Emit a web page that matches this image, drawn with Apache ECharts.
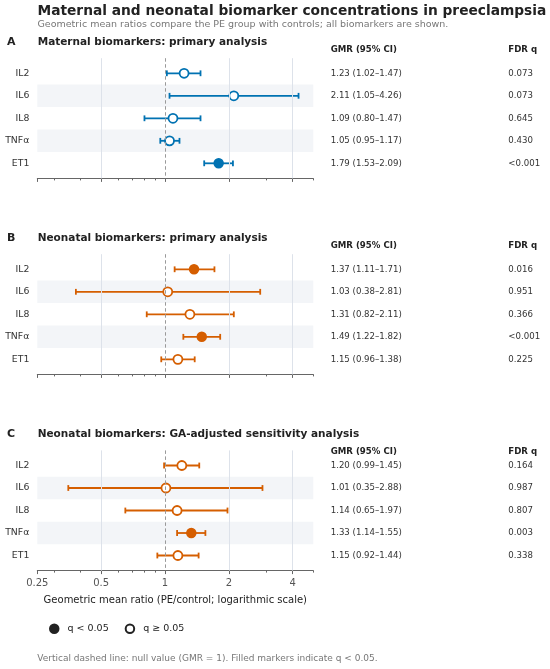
<!DOCTYPE html>
<html>
<head>
<meta charset="utf-8">
<script src="https://cdn.jsdelivr.net/npm/echarts@6/dist/echarts.min.js"></script>
<style>
  html, body { margin: 0; padding: 0; background: #fff; }
  #chart { width: 550px; height: 669px; }
</style>
</head>
<body>
<div id="chart"></div>
<script>
// data
var biomarkers = ['IL2', 'IL6', 'IL8', 'TNFα', 'ET1'];

var maternalGmr = [1.23, 2.11, 1.09, 1.05, 1.79];
var maternalLo = [1.02, 1.05, 0.80, 0.95, 1.53];
var maternalHi = [1.47, 4.26, 1.47, 1.17, 2.09];
var maternalQ = ['0.073', '0.073', '0.645', '0.430', '<0.001'];

var neonatalGmr = [1.37, 1.03, 1.31, 1.49, 1.15];
var neonatalLo = [1.11, 0.38, 0.82, 1.22, 0.96];
var neonatalHi = [1.71, 2.81, 2.11, 1.82, 1.38];
var neonatalQ = ['0.016', '0.951', '0.366', '<0.001', '0.225'];

var adjustedGmr = [1.20, 1.01, 1.14, 1.33, 1.15];
var adjustedLo = [0.99, 0.35, 0.65, 1.14, 0.92];
var adjustedHi = [1.45, 2.88, 1.97, 1.55, 1.44];
var adjustedQ = ['0.164', '0.987', '0.807', '0.003', '0.338'];

var majorTicks = [0.25, 0.5, 1, 2, 4];
var minorTicks = [0.3, 0.4, 0.6, 0.7, 0.8, 0.9, 3, 5];
var gridValues = [0.5, 2, 4];

var panels = [
    { letter: 'A', title: 'Maternal biomarkers: primary analysis', color: '#0072b2',
      gmr: maternalGmr, lo: maternalLo, hi: maternalHi, q: maternalQ, top: 58.2, head: 50.7 },
    { letter: 'B', title: 'Neonatal biomarkers: primary analysis', color: '#d55e00',
      gmr: neonatalGmr, lo: neonatalLo, hi: neonatalHi, q: neonatalQ, top: 254.2, head: 246.7 },
    { letter: 'C', title: 'Neonatal biomarkers: GA-adjusted sensitivity analysis', color: '#d55e00',
      gmr: adjustedGmr, lo: adjustedLo, hi: adjustedHi, q: adjustedQ, top: 450.4, head: 452.3 }
];

var FONT = 'DejaVu Sans';
var plotLeft = 37.3, plotWidth = 276, plotHeight = 120.2;
var yMin = -0.67, yMax = 4.67;

function isSig(s) {
    return s.charAt(0) === '<' || parseFloat(s) < 0.05;
}
function fmt(v) { return v.toFixed(2); }

var grids = [], xAxes = [], yAxes = [], series = [], graphics = [];

graphics.push({ type: 'text', left: 37.5, top: 4.5, style: { text: 'Maternal and neonatal biomarker concentrations in preeclampsia', font: 'bold 13.75px "DejaVu Sans"', fill: '#222' } });
graphics.push({ type: 'text', left: 37.5, top: 20, style: { text: 'Geometric mean ratios compare the PE group with controls; all biomarkers are shown.', font: '9.5px "DejaVu Sans"', fill: '#777' } });

panels.forEach(function (p, k) {
    var last = k === panels.length - 1;
    grids.push({ left: plotLeft, top: p.top, width: plotWidth, height: plotHeight });

    // major ticks (+ labels on the last panel)
    xAxes.push({
        type: 'log', logBase: 2, min: 0.25, max: 5, gridIndex: k, position: 'bottom',
        axisLine: { onZero: false, lineStyle: { color: '#666', width: 1 } },
        axisTick: { customValues: majorTicks, length: 3.5, lineStyle: { color: '#666' } },
        axisLabel: {
            show: last, customValues: majorTicks, margin: 7.5,
            color: '#555', fontSize: 10, fontFamily: FONT,
            formatter: function (v) { return String(+v.toFixed(2)); }
        },
        splitLine: { show: false },
        name: last ? 'Geometric mean ratio (PE/control; logarithmic scale)' : '',
        nameLocation: 'middle', nameGap: 25,
        nameTextStyle: { color: '#222', fontSize: 10, fontFamily: FONT }
    });
    // minor ticks
    xAxes.push({
        type: 'log', logBase: 2, min: 0.25, max: 5, gridIndex: k, position: 'bottom',
        axisLine: { show: false, onZero: false },
        axisTick: { customValues: minorTicks, length: 2, lineStyle: { color: '#666' } },
        axisLabel: { show: false },
        splitLine: { show: false }
    });

    var yBase = yAxes.length;
    yAxes.push({
        type: 'value', inverse: true, min: yMin, max: yMax, gridIndex: k, position: 'left',
        axisLine: { show: false, onZero: false }, axisTick: { show: false }, splitLine: { show: false },
        axisLabel: {
            customValues: [0, 1, 2, 3, 4], margin: 8,
            color: '#333', fontSize: 9.3, fontFamily: FONT,
            formatter: function (v) { return biomarkers[Math.round(v)]; }
        }
    });
    yAxes.push({
        type: 'value', inverse: true, min: yMin, max: yMax, gridIndex: k, position: 'right',
        axisLine: { show: false, onZero: false }, axisTick: { show: false }, splitLine: { show: false },
        axisLabel: {
            customValues: [0, 1, 2, 3, 4], margin: 17.4, align: 'left',
            color: '#333', fontSize: 8.6, fontFamily: FONT,
            formatter: function (v) {
                var i = Math.round(v);
                return fmt(p.gmr[i]) + ' (' + fmt(p.lo[i]) + '–' + fmt(p.hi[i]) + ')';
            }
        }
    });
    yAxes.push({
        type: 'value', inverse: true, min: yMin, max: yMax, gridIndex: k, position: 'right', offset: 187,
        axisLine: { show: false, onZero: false }, axisTick: { show: false }, splitLine: { show: false },
        axisLabel: {
            customValues: [0, 1, 2, 3, 4], margin: 8, align: 'left',
            color: '#333', fontSize: 8.6, fontFamily: FONT,
            formatter: function (v) { return p.q[Math.round(v)]; }
        }
    });

    var xi = k * 2;
    // row bands
    series.push({
        type: 'scatter', xAxisIndex: xi, yAxisIndex: yBase, data: [], z: 0, silent: true,
        markArea: {
            silent: true, itemStyle: { color: '#f3f5f8' },
            data: [[{ yAxis: 0.5 }, { yAxis: 1.5 }], [{ yAxis: 2.5 }, { yAxis: 3.5 }]]
        }
    });
    // grid lines and null line
    series.push({
        type: 'scatter', xAxisIndex: xi, yAxisIndex: yBase, data: [], z: 1, silent: true,
        markLine: {
            silent: true, symbol: 'none', label: { show: false }, animation: false,
            lineStyle: { color: '#dde2ea', width: 1, type: 'solid' },
            data: gridValues.map(function (v) { return { xAxis: v }; }).concat([
                { xAxis: 1, lineStyle: { color: '#9a9a9a', type: [3.5, 2.5], width: 1 } }
            ])
        }
    });
    // confidence intervals
    series.push({
        type: 'custom', xAxisIndex: xi, yAxisIndex: yBase, z: 2, silent: true,
        encode: { x: [0, 1], y: 2 },
        data: biomarkers.map(function (b, i) { return [p.lo[i], p.hi[i], i]; }),
        renderItem: function (params, api) {
            var a = api.coord([api.value(0), api.value(2)]);
            var b = api.coord([api.value(1), api.value(2)]);
            var c = 2.9;
            var st = { stroke: p.color, lineWidth: 1.8 };
            return {
                type: 'group', children: [
                    { type: 'line', shape: { x1: a[0], y1: a[1], x2: b[0], y2: b[1] }, style: st },
                    { type: 'line', shape: { x1: a[0], y1: a[1] - c, x2: a[0], y2: a[1] + c }, style: st },
                    { type: 'line', shape: { x1: b[0], y1: b[1] - c, x2: b[0], y2: b[1] + c }, style: st }
                ]
            };
        }
    });
    // point estimates
    series.push({
        type: 'scatter', xAxisIndex: xi, yAxisIndex: yBase, z: 3, silent: true,
        symbol: 'circle', symbolSize: 9,
        data: biomarkers.map(function (b, i) {
            var s = isSig(p.q[i]);
            return {
                value: [p.gmr[i], i],
                itemStyle: s ? { color: p.color, borderColor: p.color, borderWidth: 1.5, opacity: 1 }
                             : { color: '#fff', borderColor: p.color, borderWidth: 1.8, opacity: 1 }
            };
        })
    });

    var titleY = p.top + 0.67 * 22.5 - 30;
    graphics.push({ type: 'text', left: 7, top: titleY - 7, style: { text: p.letter, font: 'bold 11px "DejaVu Sans"', fill: '#222' } });
    graphics.push({ type: 'text', left: 37.7, top: titleY - 7, style: { text: p.title, font: 'bold 10.5px "DejaVu Sans"', fill: '#222' } });
    graphics.push({ type: 'text', left: 330.7, top: p.head - 5.5, style: { text: 'GMR (95% CI)', font: 'bold 8.6px "DejaVu Sans"', fill: '#222' } });
    graphics.push({ type: 'text', left: 508.3, top: p.head - 5.5, style: { text: 'FDR q', font: 'bold 8.6px "DejaVu Sans"', fill: '#222' } });
});

// legend series
series.push({ type: 'scatter', name: 'q < 0.05', xAxisIndex: 4, yAxisIndex: 6, data: [],
    itemStyle: { color: '#222', borderColor: '#222', borderWidth: 1.5, opacity: 1 } });
series.push({ type: 'scatter', name: 'q ≥ 0.05', xAxisIndex: 4, yAxisIndex: 6, data: [],
    itemStyle: { color: '#fff', borderColor: '#222', borderWidth: 1.5, opacity: 1 } });

graphics.push({ type: 'text', left: 37.3, top: 654, style: { text: 'Vertical dashed line: null value (GMR = 1). Filled markers indicate q < 0.05.', font: '9px "DejaVu Sans"', fill: '#777' } });

var chart = echarts.init(document.getElementById('chart'), null, { renderer: 'canvas' });
chart.setOption({
    animation: false,
    backgroundColor: '#fff',
    textStyle: { fontFamily: FONT },
    grid: grids,
    xAxis: xAxes,
    yAxis: yAxes,
    legend: {
        left: 49, top: 623.5, padding: 0, itemWidth: 8.5, itemHeight: 8.5, itemGap: 16, icon: 'circle',
        data: ['q < 0.05', 'q ≥ 0.05'],
        textStyle: { fontSize: 9.5, color: '#222', fontFamily: FONT, padding: [0, 0, 0, 4] }
    },
    graphic: graphics,
    series: series
});
</script>
</body>
</html>
